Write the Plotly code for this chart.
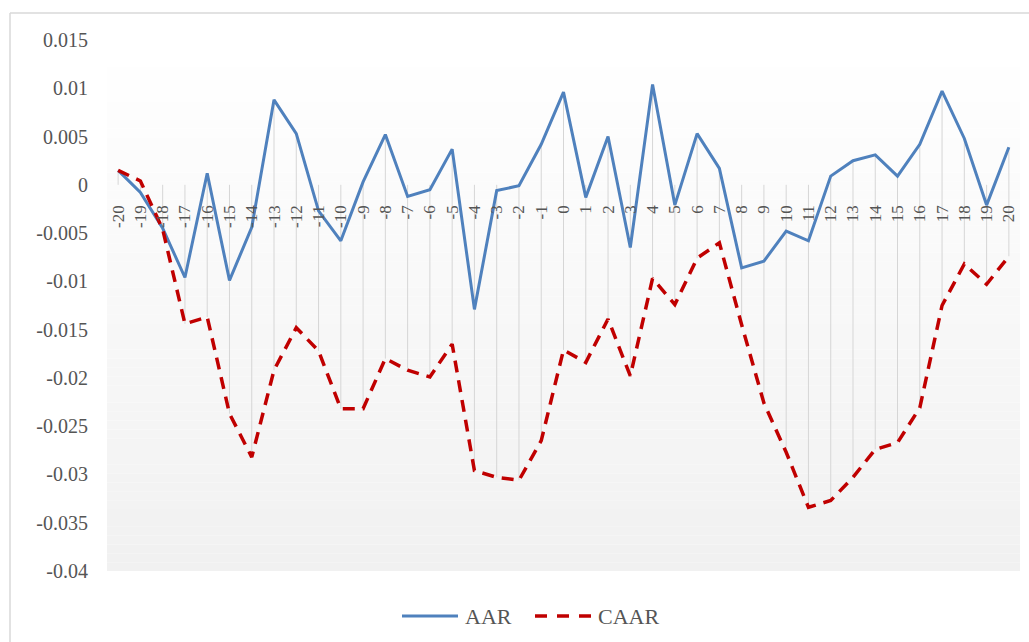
import plotly.graph_objects as go

# Event window (days relative to the event)
event_days = list(range(-20, 21))

# Average abnormal return per event day
aar = [0.0015, -0.0008, -0.0045, -0.0096, 0.0012, -0.0099, -0.0044, 0.0088, 0.0053, -0.0027,
       -0.0058, 0.0003, 0.0052, -0.0012, -0.0005, 0.0037, -0.0129, -0.0006, -0.0001, 0.0042,
       0.0096, -0.0013, 0.0050, -0.0065, 0.0104, -0.0021, 0.0053, 0.0017, -0.0086, -0.0079, -0.0048,
       -0.0058, 0.0009, 0.0025, 0.0031, 0.0009, 0.0042, 0.0097, 0.0048, -0.0021, 0.0039]

# Cumulative average abnormal return per event day
caar = [0.0015, 0.0004, -0.0046, -0.0144, -0.0137, -0.0237, -0.0282, -0.0192, -0.0148, -0.0172,
        -0.0232, -0.0232, -0.0180, -0.0192, -0.0199, -0.0165, -0.0296, -0.0303, -0.0306, -0.0265,
        -0.0171, -0.0184, -0.0139, -0.0198, -0.0097, -0.0124, -0.0076, -0.0060, -0.0145, -0.0226, -0.0277,
        -0.0334, -0.0327, -0.0303, -0.0274, -0.0267, -0.0231, -0.0125, -0.0082, -0.0103, -0.0074]

y_ticks = [0.015, 0.01, 0.005, 0, -0.005, -0.01, -0.015, -0.02, -0.025, -0.03, -0.035, -0.04]
y_min, y_max = -0.04, 0.015

W, H = 1029, 642
ML, MR, MT, MB = 107, 9, 40, 71
PW, PH = W - ML - MR, H - MT - MB

SERIF = "Liberation Serif, Times New Roman, serif"
TXT = "#555555"
BLUE = "#4F81BD"
RED = "#C00000"


def px_x(px):
    return (px - ML) / PW


def px_y(py):
    return (H - MB - py) / PH


fig = go.Figure()

# High-low drop lines for each event day
dx, dy = [], []
for d, a, c in zip(event_days, aar, caar):
    dx += [d, d, None]
    dy += [max(a, c, 0), min(a, c, 0), None]
fig.add_trace(go.Scatter(x=dx, y=dy, mode="lines", line=dict(color="#d6d6d6", width=1),
                         hoverinfo="skip", showlegend=False))

fig.add_trace(go.Scatter(x=event_days, y=aar, mode="lines", name="AAR",
                         line=dict(color=BLUE, width=3)))
fig.add_trace(go.Scatter(x=event_days, y=caar, mode="lines", name="CAAR",
                         line=dict(color=RED, width=3.5, dash="12px,8px")))

shapes = []
# Plot-area vertical gradient (white to light grey)
n_bands = 60
for i in range(n_bands):
    t = i / (n_bands - 1)
    g = round(255 - (255 - 241) * (1 - t))
    y0 = y_min + (y_max - y_min) * i / n_bands
    y1 = y_min + (y_max - y_min) * (i + 1) / n_bands
    shapes.append(dict(type="rect", xref="paper", yref="y", x0=0, x1=1, y0=y0, y1=y1,
                       fillcolor=f"rgb({g},{g},{g})", line=dict(width=0), layer="below"))

# Chart frame
shapes.append(dict(type="line", xref="paper", yref="paper", x0=px_x(10), x1=px_x(1030),
                   y0=px_y(13), y1=px_y(13), line=dict(color="#d9d9d9", width=1.5)))
shapes.append(dict(type="line", xref="paper", yref="paper", x0=px_x(10), x1=px_x(10),
                   y0=px_y(13), y1=px_y(645), line=dict(color="#d9d9d9", width=1.5)))

# Legend keys
leg_y = px_y(616)
shapes.append(dict(type="line", xref="paper", yref="paper", x0=px_x(402), x1=px_x(458),
                   y0=leg_y, y1=leg_y, line=dict(color=BLUE, width=3)))
shapes.append(dict(type="line", xref="paper", yref="paper", x0=px_x(535), x1=px_x(591),
                   y0=leg_y, y1=leg_y, line=dict(color=RED, width=3.5, dash="12px,10px")))

annotations = [
    dict(text="AAR", xref="paper", yref="paper", x=px_x(463), y=leg_y, xanchor="left",
         yanchor="middle", showarrow=False, font=dict(family=SERIF, size=22, color=TXT)),
    dict(text="CAAR", xref="paper", yref="paper", x=px_x(596), y=leg_y, xanchor="left",
         yanchor="middle", showarrow=False, font=dict(family=SERIF, size=22, color=TXT)),
]

fig.update_layout(
    width=W, height=H,
    margin=dict(l=ML, r=MR, t=MT, b=MB),
    paper_bgcolor="white", plot_bgcolor="white",
    showlegend=False,
    shapes=shapes,
    annotations=annotations,
    xaxis=dict(
        range=[-20.5, 20.5],
        tickmode="array", tickvals=event_days, ticktext=[str(d) for d in event_days],
        tickangle=-90,
        tickfont=dict(family=SERIF, size=17, color=TXT),
        showgrid=False, zeroline=False, showline=False,
        anchor="free", position=(0 - y_min) / (y_max - y_min),
        ticks="", ticklabelstandoff=16,
    ),
    yaxis=dict(
        range=[y_min, y_max],
        tickmode="array", tickvals=y_ticks, ticktext=[f"{v:g}" for v in y_ticks],
        tickfont=dict(family=SERIF, size=20, color=TXT),
        showgrid=False, zeroline=False, showline=False,
        ticks="", ticklabelstandoff=18,
    ),
)

fig.write_html("out.html")
